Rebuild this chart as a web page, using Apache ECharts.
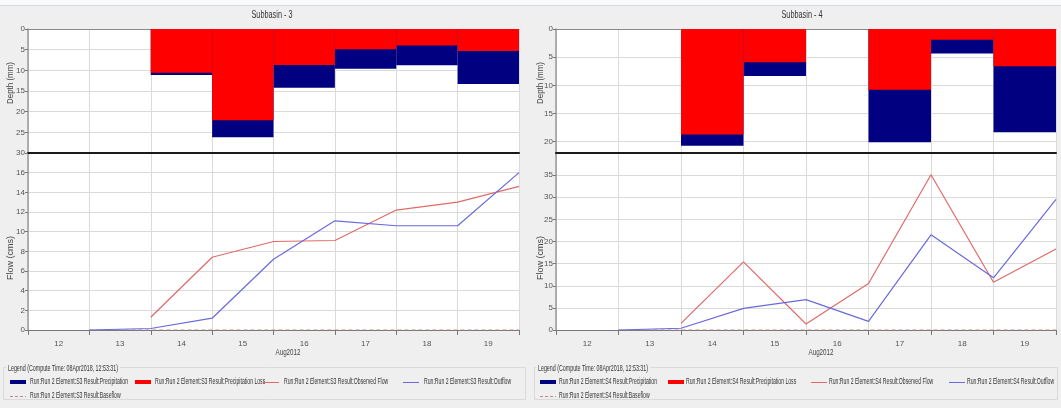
<!DOCTYPE html>
<html>
<head>
<meta charset="utf-8">
<script src="https://cdn.jsdelivr.net/npm/echarts@6/dist/echarts.min.js"></script>
<style>
html,body{margin:0;padding:0;background:#efefef;}
#chart{width:1061px;height:408px;}
</style>
</head>
<body>
<div id="chart"></div>
<script>
// ---------------- data ----------------
const days = [12, 13, 14, 15, 16, 17, 18, 19, 20];
const dayLabels = ['12', '13', '14', '15', '16', '17', '18', '19'];
const monthLabel = 'Aug2012';
const computeTime = 'Legend (Compute Time: 08Apr2018, 12:53:31)';

// Subbasin - 3 (depth per day interval, mm)
const s3Precip = [0, 0, 11.1, 26.2, 14.2, 9.6, 8.8, 13.3];
const s3Loss   = [0, 0, 10.6, 22.1, 8.7, 4.9, 4.0, 5.3];
// Subbasin - 3 flow (cms) at day boundaries
const s3Observed = [null, null, 1.3, 7.4, 9.0, 9.1, 12.2, 13.0, 14.6];
const s3Outflow  = [null, 0, 0.15, 1.2, 7.2, 11.1, 10.6, 10.6, 16.0];
const s3Baseflow = [null, 0, 0, 0, 0, 0, 0, 0, 0];

// Subbasin - 4
const s4Precip = [0, 0, 20.7, 8.35, 0, 20.1, 4.35, 18.3];
const s4Loss   = [0, 0, 18.7, 5.9, 0, 10.8, 1.9, 6.6];
const s4Observed = [null, null, 1.5, 15.4, 1.35, 10.5, 35.1, 10.8, 18.3];
const s4Outflow  = [null, 0, 0.4, 4.9, 6.85, 1.95, 21.5, 11.8, 29.5];
const s4Baseflow = [null, 0, 0, 0, 0, 0, 0, 0, 0];

// ---------------- style ----------------
const FONT = '"Liberation Sans Narrow", "Liberation Sans", Arial, sans-serif';
const C_PRECIP = '#000080', C_LOSS = '#ff0000', C_OBS = '#e06a6a', C_OUT = '#6a6ade', C_BASE = '#c08a8a';
const GRIDLINE = '#dadada', AXIS = '#9a9a9a', LABEL = '#555';

const mctx = document.createElement('canvas').getContext('2d');
function fitScale(str, size, target) {
  mctx.font = size + 'px ' + FONT;
  return target / mctx.measureText(str).width;
}
function pairs(vals) { return days.map((d, i) => [d, vals[i]]); }

const grids = [], xAxes = [], yAxes = [], series = [], graphics = [];

function yAxisBase(gi, min, max, interval, inverse, showMax) {
  return {
    gridIndex: gi, type: 'value', min, max, interval, inverse,
    axisLine: { show: true, lineStyle: { color: AXIS, width: 1.5 } },
    axisTick: { show: true, length: 3, lineStyle: { color: '#777' } },
    axisLabel: { fontSize: 8, color: LABEL, margin: 3, fontFamily: FONT, showMaxLabel: showMax, showMinLabel: true },
    splitLine: { show: true, lineStyle: { color: GRIDLINE, width: 1 } }
  };
}

function panel(cfg) {
  const g0 = grids.length;
  grids.push({ left: cfg.left, width: cfg.width, top: 29, height: 124, show: true, backgroundColor: '#fff', borderWidth: 0 });
  grids.push({ left: cfg.left, width: cfg.width, top: 153, height: 177, show: true, backgroundColor: '#fff', borderWidth: 0 });

  const x0 = xAxes.length;
  xAxes.push({ gridIndex: g0, type: 'category', data: dayLabels, boundaryGap: true, position: 'bottom',
    axisLine: { show: true, onZero: false, lineStyle: { color: '#1a1a1a', width: 2 } },
    axisTick: { show: false }, axisLabel: { show: false },
    splitLine: { show: true, lineStyle: { color: GRIDLINE } } });
  xAxes.push({ gridIndex: g0, type: 'category', data: dayLabels, boundaryGap: true, position: 'top',
    axisLine: { show: true, onZero: false, lineStyle: { color: '#8a8a8a', width: 1 } },
    axisTick: { show: false }, axisLabel: { show: false }, splitLine: { show: false } });
  xAxes.push({ gridIndex: g0 + 1, type: 'value', min: 12, max: 20, interval: 1, position: 'bottom',
    axisLine: { show: true, onZero: false, lineStyle: { color: '#777', width: 1 } },
    axisTick: { show: true, length: 5, lineStyle: { color: '#777' } },
    axisLabel: { show: false },
    splitLine: { show: true, lineStyle: { color: GRIDLINE } } });
  xAxes.push({ gridIndex: g0 + 1, type: 'category', data: dayLabels, boundaryGap: true, position: 'bottom',
    axisLine: { show: false }, axisTick: { show: false }, splitLine: { show: false },
    axisLabel: { fontSize: 8, color: LABEL, margin: 10, fontFamily: FONT } });

  const y0 = yAxes.length;
  yAxes.push(yAxisBase(g0, 0, cfg.depthMax, 5, true, cfg.depthShowMax));
  yAxes.push(yAxisBase(g0 + 1, 0, cfg.flowMax, cfg.flowInterval, false, false));

  const tag = cfg.tag;
  const nm = s => 'Run:Run 2 Element:' + tag + ' Result:' + s;
  series.push({ name: nm('Precipitation'), type: 'bar', xAxisIndex: x0, yAxisIndex: y0, data: cfg.precip,
    barWidth: '100%', barGap: '-100%', itemStyle: { color: C_PRECIP }, animation: false, silent: true });
  series.push({ name: nm('Precipitation Loss'), type: 'bar', xAxisIndex: x0, yAxisIndex: y0, data: cfg.loss,
    barWidth: '100%', barGap: '-100%', itemStyle: { color: C_LOSS }, animation: false, silent: true });
  series.push({ name: nm('Baseflow'), type: 'line', xAxisIndex: x0 + 2, yAxisIndex: y0 + 1, data: pairs(cfg.base),
    symbol: 'none', lineStyle: { color: C_BASE, width: 1, type: [4, 3] }, animation: false, silent: true });
  series.push({ name: nm('Observed Flow'), type: 'line', xAxisIndex: x0 + 2, yAxisIndex: y0 + 1, data: pairs(cfg.obs),
    symbol: 'none', lineStyle: { color: C_OBS, width: 1.2 }, animation: false, silent: true });
  series.push({ name: nm('Outflow'), type: 'line', xAxisIndex: x0 + 2, yAxisIndex: y0 + 1, data: pairs(cfg.out),
    symbol: 'none', lineStyle: { color: C_OUT, width: 1.2 }, animation: false, silent: true });

  // titles and axis names
  const tSc = fitScale(cfg.title, 10, 41);
  graphics.push({ type: 'text', x: cfg.titleX, y: 15, scaleX: tSc,
    style: { text: cfg.title, font: '10px ' + FONT, fill: '#333', align: 'center', verticalAlign: 'middle' } });
  const dSc = fitScale('Depth (mm)', 9, 42);
  graphics.push({ type: 'text', x: cfg.nameX, y: 83, rotation: Math.PI / 2, scaleX: dSc,
    style: { text: 'Depth (mm)', font: '9px ' + FONT, fill: '#444', align: 'center', verticalAlign: 'middle' } });
  const fSc = fitScale('Flow (cms)', 9, 44);
  graphics.push({ type: 'text', x: cfg.nameX, y: 258, rotation: Math.PI / 2, scaleX: fSc,
    style: { text: 'Flow (cms)', font: '9px ' + FONT, fill: '#444', align: 'center', verticalAlign: 'middle' } });
  const mSc = fitScale(monthLabel, 9, 25);
  graphics.push({ type: 'text', x: cfg.monthX, y: 353, scaleX: mSc,
    style: { text: monthLabel, font: '9px ' + FONT, fill: '#444', align: 'center', verticalAlign: 'middle' } });

  // legend (titled border box)
  const lSc = fitScale(nm('Precipitation'), 9, 98);
  const lgSc = fitScale(computeTime, 9, 110);
  graphics.push({ type: 'rect', shape: { x: cfg.boxX + 0.5, y: 367.5, width: cfg.boxW, height: 32 },
    style: { fill: null, stroke: '#dadada', lineWidth: 1 } });
  graphics.push({ type: 'rect', shape: { x: cfg.legX - 2, y: 363, width: 114, height: 9 },
    style: { fill: '#efefef' } });
  graphics.push({ type: 'text', x: cfg.legX, y: 369, scaleX: lgSc,
    style: { text: computeTime, font: '9px ' + FONT, fill: '#333', align: 'left', verticalAlign: 'middle' } });
  const items = [
    { s: 'Precipitation', kind: 'bar', color: C_PRECIP },
    { s: 'Precipitation Loss', kind: 'bar', color: C_LOSS },
    { s: 'Observed Flow', kind: 'line', color: C_OBS },
    { s: 'Outflow', kind: 'line', color: C_OUT },
    { s: 'Baseflow', kind: 'dash', color: C_BASE }
  ];
  items.forEach((it, i) => {
    const pos = cfg.legPos[i];
    const y = pos[2];
    if (it.kind === 'bar') {
      graphics.push({ type: 'rect', shape: { x: pos[0], y: y - 2, width: 16, height: 4 }, style: { fill: it.color } });
    } else {
      graphics.push({ type: 'line', shape: { x1: pos[0], y1: y + 0.5, x2: pos[0] + 16, y2: y + 0.5 },
        style: { stroke: it.color, lineWidth: 1, lineDash: it.kind === 'dash' ? [3, 2] : null } });
    }
    graphics.push({ type: 'text', x: pos[1], y: y, scaleX: lSc,
      style: { text: nm(it.s), font: '9px ' + FONT, fill: '#333', align: 'left', verticalAlign: 'middle' } });
  });
}

panel({ tag: 'S3', title: 'Subbasin - 3', left: 28, width: 491, titleX: 272, nameX: 11, monthX: 288,
  depthMax: 30, depthShowMax: true, flowMax: 18, flowInterval: 2,
  precip: s3Precip, loss: s3Loss, obs: s3Observed, out: s3Outflow, base: s3Baseflow,
  boxX: 3, boxW: 522,
  legX: 8, legPos: [[10, 30, 382], [135, 155, 382], [263, 284, 382], [403, 424, 382], [10, 30, 396]] });

panel({ tag: 'S4', title: 'Subbasin - 4', left: 556, width: 500, titleX: 802, nameX: 541, monthX: 821,
  depthMax: 22, depthShowMax: false, flowMax: 40, flowInterval: 5,
  precip: s4Precip, loss: s4Loss, obs: s4Observed, out: s4Outflow, base: s4Baseflow,
  boxX: 534, boxW: 523,
  legX: 538, legPos: [[540, 559, 382], [668, 686, 382], [811, 829, 382], [949, 967, 382], [540, 559, 396]] });

// frame decorations
graphics.unshift({ type: 'rect', shape: { x: 0, y: 0, width: 1061, height: 5 }, style: { fill: '#fafafa' }, z: -1 });
graphics.unshift({ type: 'line', shape: { x1: 0, y1: 5.5, x2: 1061, y2: 5.5 }, style: { stroke: '#cfd8e3', lineWidth: 1 } });

const chart = echarts.init(document.getElementById('chart'), null, { renderer: 'canvas' });
chart.setOption({
  backgroundColor: '#efefef',
  animation: false,
  grid: grids,
  xAxis: xAxes,
  yAxis: yAxes,
  series: series,
  graphic: { elements: graphics }
});
</script>
</body>
</html>
